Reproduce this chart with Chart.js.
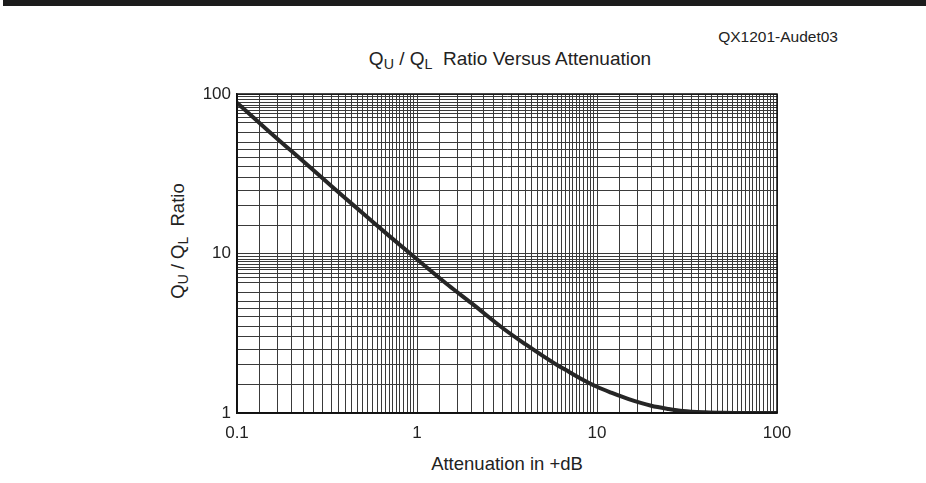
<!DOCTYPE html>
<html>
<head>
<meta charset="utf-8">
<script src="https://cdn.jsdelivr.net/npm/chart.js@4/dist/chart.umd.min.js"></script>
<style>
  body { margin: 0; background: #fff; font-family: "Liberation Sans", Arial, sans-serif; color: #222; }
  #wrap { position: relative; width: 926px; height: 483px; overflow: hidden; }
  #topbar { position: absolute; left: 3px; right: 0; top: 0; height: 6px; background: #1c1c1c; }
  #figid { position: absolute; right: 88px; top: 28px; font-size: 15.5px; }
  #title { position: absolute; left: 0; width: 1020px; top: 48px; text-align: center; font-size: 19px; }
  #ytitle { position: absolute; left: 178px; top: 241px; font-size: 18.5px; white-space: nowrap;
            transform: translate(-50%, -50%) rotate(-90deg); }
  #xtitle { position: absolute; left: 0; width: 1014px; top: 453px; text-align: center; font-size: 18.5px; }
  sub { font-size: 0.75em; vertical-align: -0.3em; line-height: 0; }
  canvas { position: absolute; left: 0; top: 0; }
</style>
</head>
<body>
<div id="wrap">
  <div id="topbar"></div>
  <div id="figid">QX1201-Audet03</div>
  <div id="title">Q<sub>U</sub> / Q<sub>L</sub>&nbsp; Ratio Versus Attenuation</div>
  <div id="ytitle">Q<sub>U</sub> / Q<sub>L</sub>&nbsp; Ratio</div>
  <div id="xtitle">Attenuation in +dB</div>
  <canvas id="chart" width="926" height="483"></canvas>
</div>
<script>
// attenuation in dB
const attenuation = [0.1, 0.15, 0.2, 0.3, 0.4, 0.5, 0.7, 1, 1.5, 2, 3, 4, 5, 6, 7, 8, 10, 12, 15, 20, 25, 30, 40, 50, 70, 100];
const qRatio = [88, 58.5, 44, 29.5, 22.2, 17.9, 12.9, 9.2, 6.3, 4.9, 3.4, 2.7, 2.28, 2.0, 1.81, 1.66, 1.46, 1.34, 1.22, 1.11, 1.06, 1.03, 1.01, 1.003, 1.0, 1.0];

const xTickLabels = ["0.1", "1", "10", "100"];
const yTickLabels = ["1", "10", "100"];

// grid line mantissas inside each decade
const xGridSteps = [1, 1.33, 1.67, 2, 2.33, 2.67, 3, 3.33, 3.67, 4, 4.33, 4.67, 5, 5.33, 5.67, 6, 6.33, 6.67, 7, 7.33, 7.67, 8, 8.4, 8.8, 9.2, 9.6];
const yGridSteps = [1, 1.5, 2, 2.5, 3, 3.5, 4, 4.5, 5, 5.7, 6.6, 7.1, 7.5, 7.9, 8.2, 8.5, 8.9, 9.2, 9.6];

function gridValues(steps, lo, hi) {
  const out = [];
  for (let d = lo; d < hi; d *= 10) {
    steps.forEach(s => out.push(+(s * d).toPrecision(6)));
  }
  out.push(hi);
  return out;
}

const ctx = document.getElementById("chart").getContext("2d");

new Chart(ctx, {
  type: "line",
  data: {
    datasets: [{
      data: attenuation.map((a, i) => ({ x: a, y: qRatio[i] })),
      borderColor: "#262626",
      borderWidth: 4,
      pointRadius: 0,
      cubicInterpolationMode: "monotone",
      fill: false,
    }],
  },
  options: {
    responsive: false,
    animation: false,
    layout: { padding: { top: 94, right: 149, left: 0, bottom: 0 } },
    plugins: { legend: { display: false }, tooltip: { enabled: false } },
    scales: {
      x: {
        type: "logarithmic",
        min: 0.1,
        max: 100,
        afterBuildTicks: (s) => { s.ticks = gridValues(xGridSteps, 0.1, 100).map(v => ({ value: v })); },
        afterFit: (s) => { s.height = 70; },
        grid: { color: "#3a3a3a", lineWidth: 1, drawTicks: false },
        border: { color: "#111", width: 1.5 },
        ticks: {
          autoSkip: false,
          maxRotation: 0,
          padding: 10,
          color: "#222",
          font: { family: "Liberation Sans", size: 17 },
          callback: (v) => { const l = String(+v.toPrecision(3)); return xTickLabels.includes(l) ? l : ""; },
        },
      },
      y: {
        type: "logarithmic",
        min: 1,
        max: 100,
        afterBuildTicks: (s) => { s.ticks = gridValues(yGridSteps, 1, 100).map(v => ({ value: v })); },
        afterFit: (s) => { s.width = 237; },
        grid: { color: "#3a3a3a", lineWidth: 1, drawTicks: false },
        border: { color: "#111", width: 1.5 },
        ticks: {
          autoSkip: false,
          padding: 6,
          color: "#222",
          font: { family: "Liberation Sans", size: 17 },
          callback: (v) => { const l = String(+v.toPrecision(3)); return yTickLabels.includes(l) ? l : ""; },
        },
      },
    },
  },
  plugins: [{
    id: "frame",
    afterDraw(chart) {
      const a = chart.chartArea, c = chart.ctx;
      c.save();
      c.strokeStyle = "#111";
      c.lineWidth = 1.5;
      c.strokeRect(a.left, a.top, a.right - a.left, a.bottom - a.top);
      c.restore();
    },
  }],
});
</script>
</body>
</html>
